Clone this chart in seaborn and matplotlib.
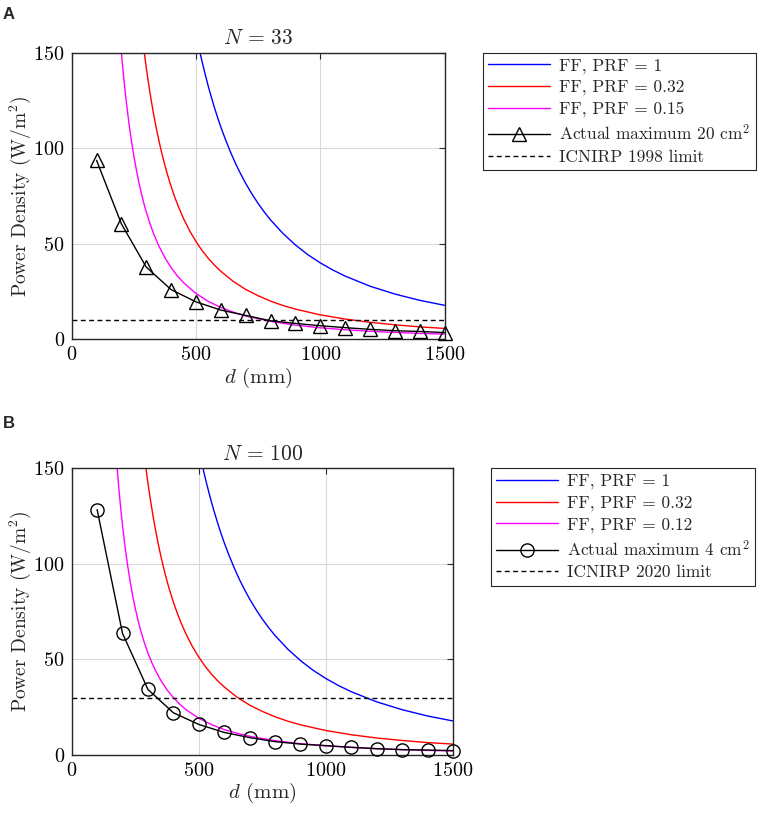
import numpy as np
import pandas as pd
import matplotlib
matplotlib.use("Agg")
import matplotlib.pyplot as plt
import seaborn as sns

# ---------------- data ----------------
# Far-field curves (shared by both panels, PRF = 1 and PRF = 0.32)
d_blue = [500, 510, 520, 530, 540, 550, 560, 575, 590, 600, 620, 640, 660, 680, 700, 725, 750, 775, 800,
          850, 900, 950, 1000, 1050, 1100, 1200, 1300, 1400, 1500]
pd_blue = [160.0, 153.8, 147.9, 142.4, 137.2, 132.2, 127.6, 121.0, 114.9, 111.1, 104.1, 97.7, 91.8, 86.5, 81.6,
           76.1, 71.1, 66.6, 62.5, 55.4, 49.4, 44.3, 40.0, 36.3, 33.1, 27.8, 23.7, 20.4, 17.8]

d_red = [290, 295, 300, 310, 320, 330, 340, 350, 360, 370, 380, 390, 400, 415, 430, 450, 475, 500, 525, 550,
         575, 600, 650, 700, 750, 800, 850, 900, 1000, 1100, 1200, 1300, 1400, 1500]
pd_red = [152.2, 147.1, 142.2, 133.2, 125.0, 117.5, 110.7, 104.5, 98.8, 93.5, 88.6, 84.2, 80.0, 74.3, 69.2,
          63.2, 56.7, 51.2, 46.4, 42.3, 38.7, 35.6, 30.3, 26.1, 22.8, 20.0, 17.7, 15.8, 12.8, 10.6, 8.9, 7.6,
          6.5, 5.7]

# Panel A: PRF = 0.15
d_mag_a = [198, 200, 205, 210, 215, 220, 230, 240, 250, 260, 270, 280, 290, 300, 315, 330, 350, 375, 400, 425,
           450, 500, 550, 600, 650, 700, 800, 900, 1000, 1100, 1200, 1300, 1400, 1500]
pd_mag_a = [153.0, 150.0, 142.8, 136.1, 129.8, 124.0, 113.4, 104.2, 96.0, 88.8, 82.3, 76.5, 71.3, 66.7, 60.5,
            55.1, 49.0, 42.7, 37.5, 33.2, 29.6, 24.0, 19.8, 16.7, 14.2, 12.2, 9.4, 7.4, 6.0, 5.0, 4.2, 3.6,
            3.1, 2.7]

# Panel B: PRF = 0.12
d_mag_b = [176, 180, 185, 190, 195, 200, 210, 220, 230, 240, 250, 260, 270, 285, 300, 315, 330, 350, 375, 400,
           425, 450, 500, 550, 600, 650, 700, 800, 900, 1000, 1100, 1200, 1300, 1400, 1500]
pd_mag_b = [155.0, 148.1, 140.2, 133.0, 126.2, 120.0, 108.8, 99.2, 90.7, 83.3, 76.8, 71.0, 65.8, 59.1, 53.3,
            48.4, 44.1, 39.2, 34.1, 30.0, 26.6, 23.7, 19.2, 15.9, 13.3, 11.4, 9.8, 7.5, 5.9, 4.8, 4.0, 3.3,
            2.8, 2.4, 2.1]

# Measured maxima
d_meas = [100, 200, 300, 400, 500, 600, 700, 800, 900, 1000, 1100, 1200, 1300, 1400, 1500]
pd_meas_a = [93.7, 60.4, 37.8, 26.0, 19.6, 15.3, 12.5, 9.7, 8.3, 7.1, 6.1, 5.2, 4.5, 4.1, 3.5]
pd_meas_b = [128.4, 63.6, 34.3, 22.1, 16.0, 11.8, 9.1, 7.0, 5.7, 4.9, 4.0, 3.3, 2.8, 2.6, 2.3]

limit_a = 10
limit_b = 30

titles = [r"$N\,=\,33$", r"$N\,=\,100$"]
prf_labels_a = ["FF, PRF = 1", "FF, PRF = 0.32", "FF, PRF = 0.15"]
prf_labels_b = ["FF, PRF = 1", "FF, PRF = 0.32", "FF, PRF = 0.12"]
meas_label_a = r"Actual maximum 20 cm$^2$"
meas_label_b = r"Actual maximum 4 cm$^2$"
limit_label_a = "ICNIRP 1998 limit"
limit_label_b = "ICNIRP 2020 limit"
xticks = [0, 500, 1000, 1500]
yticks = [0, 50, 100, 150]

# ---------------- style ----------------
sns.set_style("white")
plt.rcParams["font.family"] = ["cmr10", "DejaVu Serif"]
plt.rcParams["mathtext.fontset"] = "cm"
plt.rcParams["axes.formatter.use_mathtext"] = True
plt.rcParams["axes.unicode_minus"] = False

fig = plt.figure(figsize=(7.65, 8.14), dpi=100)
W, H = 765, 814

def ax_rect(l, t, r, b):
    return [l / W, 1 - b / H, (r - l) / W, (b - t) / H]

ax_a = fig.add_axes(ax_rect(71.7, 52.7, 444.5, 339.3))
ax_b = fig.add_axes(ax_rect(71.7, 468.3, 453.0, 755.0))

def draw(ax, mag_d, mag_v, meas_v, marker, msize, limit, title, prf_labels, meas_label, limit_label, leg_anchor):
    sns.lineplot(x=d_blue, y=pd_blue, ax=ax, color=(0, 0, 1), lw=1.0, label=prf_labels[0], sort=False)
    sns.lineplot(x=d_red, y=pd_red, ax=ax, color=(1, 0, 0), lw=1.0, label=prf_labels[1], sort=False)
    sns.lineplot(x=mag_d, y=mag_v, ax=ax, color=(1, 0, 1), lw=1.0, label=prf_labels[2], sort=False)
    sns.lineplot(x=d_meas, y=meas_v, ax=ax, color="k", lw=1.0, marker=marker, markersize=msize,
                 markerfacecolor="none", markeredgecolor="k", markeredgewidth=1.0,
                 label=meas_label, sort=False, clip_on=False, zorder=5)
    ax.axhline(limit, color="k", lw=1.0, ls=(0, (3.5, 2.5)), label=limit_label)
    ax.set_xlim(0, 1500)
    ax.set_ylim(0, 150)
    ax.set_xticks(xticks)
    ax.set_yticks(yticks)
    ax.grid(True, color="#d9d9d9", lw=0.8)
    ax.set_axisbelow(True)
    for s in ax.spines.values():
        s.set_color("#262626")
        s.set_linewidth(1.0)
        s.set_visible(True)
    ax.tick_params(direction="in", length=4, width=0.8, top=True, right=True,
                   labelsize=14.5, colors="#262626", labelcolor="k", pad=5)
    ax.set_title(title, fontsize=15.5, pad=6)
    ax.set_xlabel(r"$d$ (mm)", fontsize=15, labelpad=1)
    ax.set_ylabel(r"Power Density (W/m$^2$)", fontsize=14, labelpad=0)
    h, l = ax.get_legend_handles_labels()
    leg = ax.legend(h, l, loc="upper left", bbox_to_anchor=leg_anchor, bbox_transform=fig.transFigure,
                    fontsize=12.5, frameon=True, fancybox=False, framealpha=1, edgecolor="#262626",
                    handlelength=3.6, handletextpad=0.5, labelspacing=0.345, borderpad=0.3,
                    borderaxespad=0.0, numpoints=1)
    leg.get_frame().set_linewidth(0.8)

draw(ax_a, d_mag_a, pd_mag_a, pd_meas_a, "^", 10, limit_a, titles[0], prf_labels_a,
     meas_label_a, limit_label_a, (482.7 / W, 1 - 52.7 / H))
draw(ax_b, d_mag_b, pd_mag_b, pd_meas_b, "o", 9.5, limit_b, titles[1], prf_labels_b,
     meas_label_b, limit_label_b, (490.7 / W, 1 - 468.3 / H))

fig.text(3 / W, 1 - 7 / H, "A", fontsize=12, fontweight="bold", family="Liberation Sans", va="top", ha="left")
fig.text(3 / W, 1 - 415.5 / H, "B", fontsize=12, fontweight="bold", family="Liberation Sans", va="top", ha="left")

fig.savefig("out.png", dpi=100)
